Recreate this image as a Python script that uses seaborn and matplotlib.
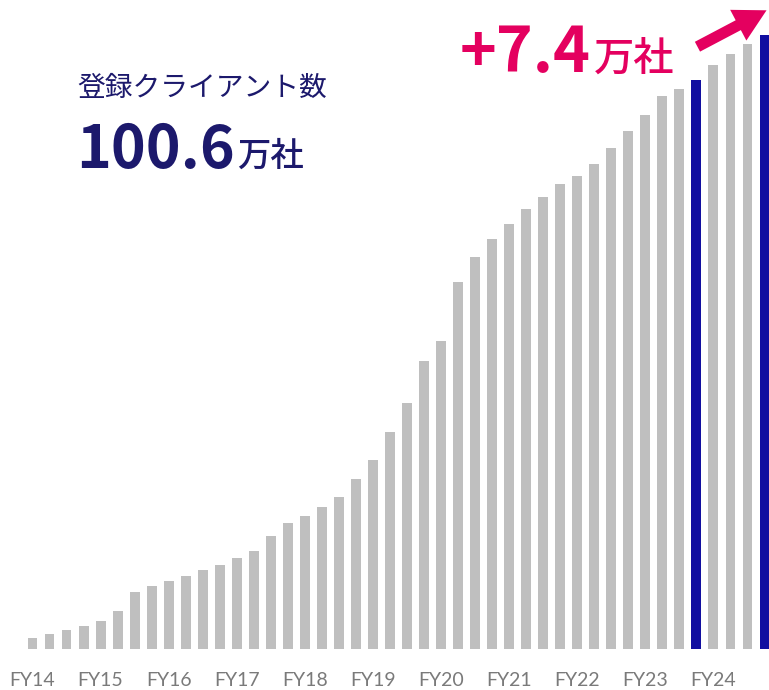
import numpy as np
import pandas as pd
import matplotlib
matplotlib.use("Agg")
import matplotlib.pyplot as plt
import seaborn as sns

# Registered clients (10k companies), quarterly FY14 Q1 .. FY24 Q4
years = [f"FY{y}" for y in range(14, 25)]
quarters = ["Q1", "Q2", "Q3", "Q4"]
periods = [f"{y} {q}" for y in years for q in quarters]
clients = [
    1.8, 2.5, 3.2, 3.8,
    4.6, 6.2, 9.3, 10.4,
    11.1, 12.0, 12.9, 13.8,
    14.9, 16.1, 18.5, 20.6,
    21.9, 23.3, 25.0, 27.9,
    31.0, 35.5, 40.3, 47.2,
    50.4, 60.1, 64.2, 67.1,
    69.6, 72.0, 74.1, 76.2,
    77.5, 79.4, 82.1, 84.9,
    87.5, 90.5, 91.7, 93.2,
    95.7, 97.4, 99.0, 100.6,
]
highlight_periods = ["FY23 Q4", "FY24 Q4"]
tick_labels = years

title_text = "登録クライアント数"
total_value = clients[-1]
yoy_value = round(clients[-1] - clients[-5], 1)
unit_text = "万社"

GREY = "#bfbfbf"
BLUE = "#110ea0"
NAVY = "#1c196c"
PINK = "#e4005f"

df = pd.DataFrame({
    "period": periods,
    "clients": clients,
    "group": ["highlight" if p in highlight_periods else "base" for p in periods],
})

sns.set_style("white")
plt.rcParams["font.family"] = ["Noto Sans CJK JP", "DejaVu Sans"]

W, H = 769, 690
fig = plt.figure(figsize=(W / 100, H / 100), dpi=100)

# axes: baseline at y=649 px, value 100.6 reaches y=35 px
base_px = 649.3
px_per_unit = (649.3 - 34.7) / 100.6
ax = fig.add_axes([0, (H - base_px) / H, 1, base_px / H])

sns.barplot(
    data=df, x="period", y="clients", hue="group",
    palette={"base": GREY, "highlight": BLUE},
    dodge=False, width=0.58, legend=False, ax=ax,
    saturation=1, linewidth=0,
)

spacing = (764.5 - 32.5) / 43
ax.set_xlim(-32.5 / spacing, 43 + 4.5 / spacing)
ax.set_ylim(0, base_px / px_per_unit)
for s in ax.spines.values():
    s.set_visible(False)
ax.set_yticks([])
ax.set_xticks(range(0, len(periods), 4))
ax.set_xticklabels(tick_labels, fontfamily="Lato", fontsize=14, color="#7a7a7a")
ax.tick_params(axis="x", length=0, pad=16)
ax.set_xlabel("")
ax.set_ylabel("")


def fx(px):
    return px / W


def fy(px):
    return 1 - px / H


renderer = fig.canvas.get_renderer()


def right_px(t):
    bb = t.get_window_extent(renderer=renderer)
    return bb.x1


fig.text(fx(77), fy(96), title_text, color=NAVY, fontsize=20, va="baseline", ha="left")
big = fig.text(fx(76), fy(168), f"{total_value:.1f}", color=NAVY, fontsize=42.5,
               fontweight="bold", va="baseline", ha="left")
fig.text(fx(right_px(big) + 2), fy(165.5), unit_text, color=NAVY, fontsize=24,
         fontweight="medium", va="baseline", ha="left")

plus = fig.text(fx(460), fy(72), f"+{yoy_value:.1f}", color=PINK, fontsize=45,
                fontweight="bold", va="baseline", ha="left")
fig.text(fx(right_px(plus) + 3), fy(71), unit_text, color=PINK, fontsize=29,
         fontweight="medium", va="baseline", ha="left")

fig.patches.append(matplotlib.patches.FancyArrowPatch(
    (fx(695), fy(48)), (fx(769), fy(9)),
    transform=fig.transFigure, figure=fig,
    arrowstyle="simple,head_length=1.15,head_width=1.25,tail_width=0.4",
    mutation_scale=20, color=PINK, linewidth=0,
))

fig.savefig("out.png", dpi=100)
